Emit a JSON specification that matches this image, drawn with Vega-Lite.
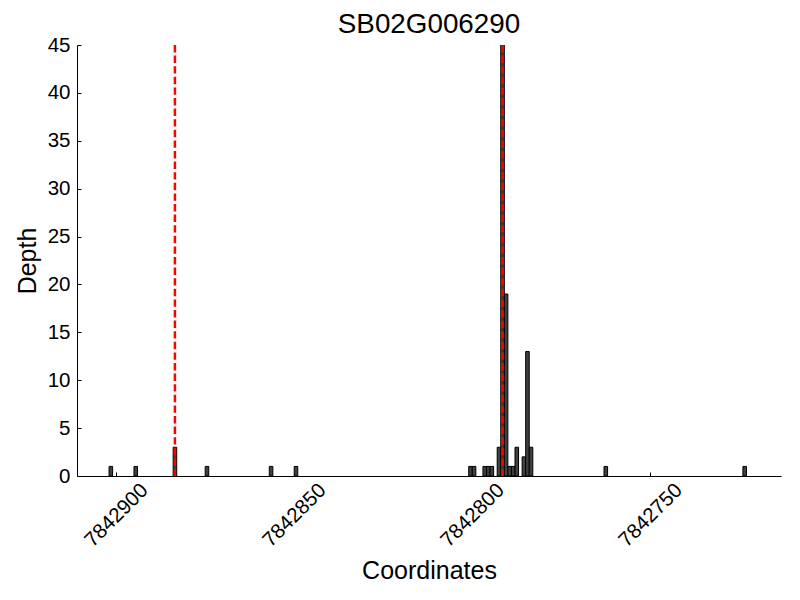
{
  "$schema": "https://vega.github.io/schema/vega-lite/v6.json",
  "width": 704,
  "height": 431,
  "autosize": {"type": "none"},
  "padding": {"left": 77, "top": 45, "right": 19, "bottom": 124},
  "background": "white",
  "config": {"view": {"stroke": null}, "font": "Liberation Sans"},
  "title": {"text": "SB02G006290", "fontSize": 27.8, "fontWeight": "normal", "font": "Liberation Sans", "color": "black", "offset": 7, "baseline": "alphabetic", "dy": 33},
  "layer": [
    {
      "data": {"values": [
        {"start": 7842901, "end": 7842902, "depth": 1},
        {"start": 7842894, "end": 7842895, "depth": 1},
        {"start": 7842883, "end": 7842884, "depth": 3},
        {"start": 7842874, "end": 7842875, "depth": 1},
        {"start": 7842856, "end": 7842857, "depth": 1},
        {"start": 7842849, "end": 7842850, "depth": 1},
        {"start": 7842800, "end": 7842801, "depth": 1},
        {"start": 7842799, "end": 7842800, "depth": 1},
        {"start": 7842796, "end": 7842797, "depth": 1},
        {"start": 7842795, "end": 7842796, "depth": 1},
        {"start": 7842794, "end": 7842795, "depth": 1},
        {"start": 7842792, "end": 7842793, "depth": 3},
        {"start": 7842791, "end": 7842792, "depth": 45},
        {"start": 7842790, "end": 7842791, "depth": 19},
        {"start": 7842789, "end": 7842790, "depth": 1},
        {"start": 7842788, "end": 7842789, "depth": 1},
        {"start": 7842787, "end": 7842788, "depth": 3},
        {"start": 7842785, "end": 7842786, "depth": 2},
        {"start": 7842784, "end": 7842785, "depth": 13},
        {"start": 7842783, "end": 7842784, "depth": 3},
        {"start": 7842762, "end": 7842763, "depth": 1},
        {"start": 7842723, "end": 7842724, "depth": 1}
      ]},
      "mark": {"type": "bar", "fill": "#404040", "stroke": "black", "strokeWidth": 1, "opacity": 1, "clip": true},
      "encoding": {
        "x": {
          "field": "start", "type": "quantitative",
          "scale": {"domain": [7842713.3, 7842911], "reverse": true, "nice": false, "zero": false},
          "axis": {
            "title": "Coordinates", "titleFontSize": 25, "titleFontWeight": "normal", "titleColor": "black",
            "titleY": 102, "titleBaseline": "alphabetic",
            "values": [7842750, 7842800, 7842850, 7842900], "format": "d",
            "labelAngle": -45, "labelAlign": "center", "labelBaseline": "middle", "labelPadding": 43,
            "labelFontSize": 20.5, "labelColor": "black", "labelFlush": false, "labelOverlap": false,
            "tickSize": -4, "tickColor": "black", "domainColor": "black", "grid": false
          }
        },
        "x2": {"field": "end"},
        "y": {
          "field": "depth", "type": "quantitative",
          "scale": {"domain": [0, 45], "nice": false},
          "axis": {
            "title": "Depth", "titleFontSize": 25, "titleFontWeight": "normal", "titleColor": "black",
            "titleX": -42, "titleY": 215.5, "titleBaseline": "alphabetic", "titleAlign": "center",
            "values": [0, 5, 10, 15, 20, 25, 30, 35, 40, 45],
            "labelFontSize": 20.5, "labelColor": "black", "labelPadding": 11, "labelFlush": false,
            "tickSize": -4, "tickColor": "black", "domainColor": "black", "grid": false
          }
        },
        "y2": {"datum": 0}
      }
    },
    {
      "data": {"values": [{"pos": 7842883.5}, {"pos": 7842791.5}]},
      "mark": {"type": "rule", "color": "red", "strokeWidth": 2.5, "strokeDash": [7.4, 3.2]},
      "encoding": {"x": {"field": "pos", "type": "quantitative"}}
    }
  ]
}
